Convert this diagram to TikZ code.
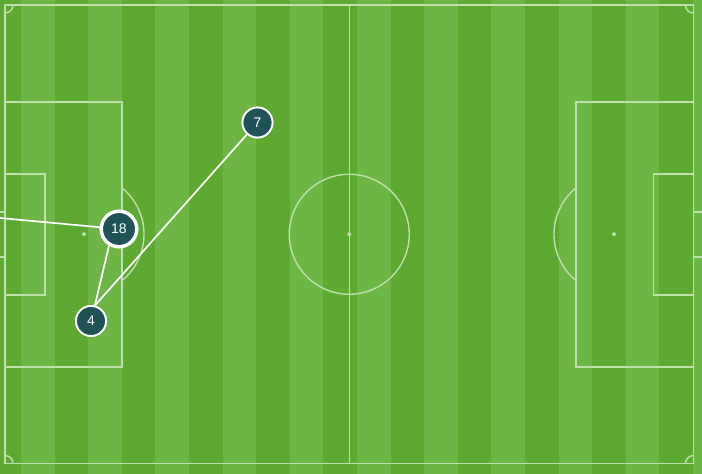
\documentclass[tikz,border=0pt]{standalone}
\usepackage{fontspec}
\setmainfont{Liberation Sans}
\definecolor{grasslight}{HTML}{6DB545}
\definecolor{grassdark}{HTML}{5DA931}
\definecolor{pitchline}{HTML}{BFE0AC}
\definecolor{playerfill}{HTML}{1F5357}
\tikzset{
  pitch/.style={draw=pitchline, line width=1.4pt},
  spotdot/.style={fill=pitchline, draw=none},
  passline/.style={draw=white, line width=1.7pt},
  player/.style={circle, fill=playerfill, draw=white, line width=1.8pt, minimum size=30pt, inner sep=0pt,
    text=white, font=\fontsize{14}{14}\selectfont},
  keyplayer/.style={player, line width=3.3pt, minimum size=35.4pt}
}
\begin{document}
\begin{tikzpicture}[x=1pt,y=-1pt]
\useasboundingbox (0,0) rectangle (702,474);
% grass
\fill[grassdark] (0,0) rectangle (702,474);
\foreach \k in {0,2,...,18} {
  \fill[grasslight] ({21+33.6*\k},0) rectangle ({21+33.6*(\k+1)},474);
}
\fill[grasslight] (693,0) rectangle (702,474);
% pitch markings
\begin{scope}
\clip (0,0) rectangle (702,474);
\draw[pitch] (5,5) rectangle (693.5,463.5);
\draw[pitch] (349.25,5) -- (349.25,463.5);
\draw[pitch] (349.25,234.25) circle (60);
\fill[spotdot] (349.25,234.25) circle (2);
% left side
\draw[pitch] (5,102) rectangle (122,367);
\draw[pitch] (5,174) rectangle (45,295);
\draw[pitch] (-10,212) rectangle (5,257);
\fill[spotdot] (84,234.25) circle (2);
\begin{scope}
\clip (122,0) rectangle (200,474);
\draw[pitch] (84,234.25) circle (60);
\end{scope}
% right side
\draw[pitch] (576,102) rectangle (693.5,367);
\draw[pitch] (653.5,174) rectangle (693.5,295);
\draw[pitch] (693.5,212) rectangle (710,257);
\fill[spotdot] (614,234.25) circle (2);
\begin{scope}
\clip (500,0) rectangle (576,474);
\draw[pitch] (614,234.25) circle (60);
\end{scope}
% corner arcs
\draw[pitch] (13,5) arc[start angle=0, end angle=90, radius=8];
\draw[pitch] (13,463.5) arc[start angle=0, end angle=-90, radius=8];
\draw[pitch] (685.5,5) arc[start angle=180, end angle=90, radius=8];
\draw[pitch] (685.5,463.5) arc[start angle=180, end angle=270, radius=8];
\end{scope}
% players
\node[keyplayer] (n18) at (119,229) {18};
\node[player] (n4) at (91,321) {4};
\node[player] (n7) at (257.5,122.5) {7};
\coordinate (from) at (0,218);
% passes
\draw[passline] (from) -- (n18);
\draw[passline] (n4.76) -- (n18.239);
\draw[passline] (n4.76) -- (n7);
% redraw players on top
\node[keyplayer] at (n18.center) {18};
\node[player] at (n4.center) {4};
\node[player] at (n7.center) {7};
\end{tikzpicture}
\end{document}
